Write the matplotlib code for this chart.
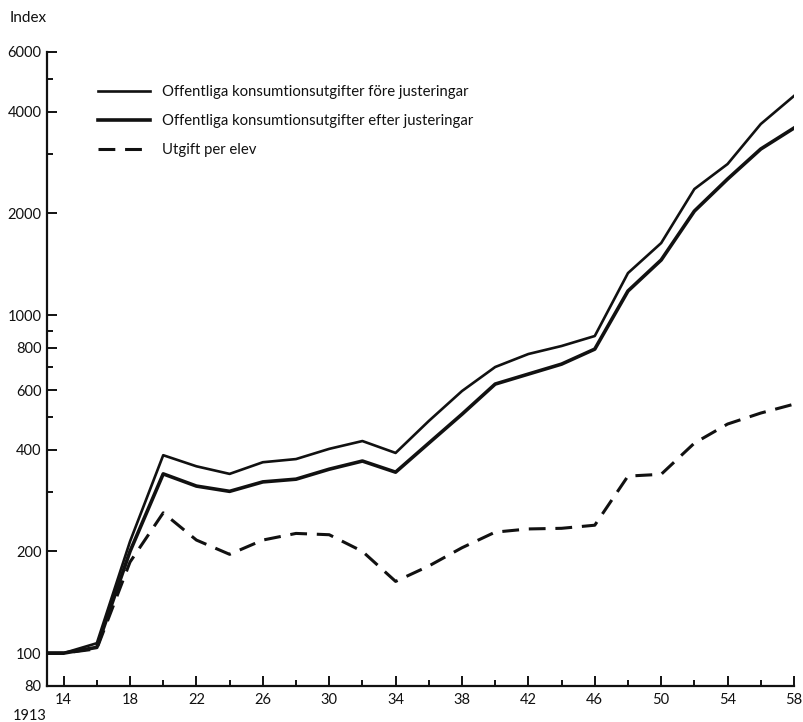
import matplotlib.pyplot as plt
from matplotlib.ticker import FixedLocator, NullFormatter

plt.rcParams["font.family"] = ["Lato", "DejaVu Sans"]

years = [1913, 1914, 1916, 1918, 1920, 1922, 1924, 1926, 1928, 1930, 1932,
         1934, 1936, 1938, 1940, 1942, 1944, 1946, 1948, 1950, 1952, 1954,
         1956, 1958]

# index, 1913 = 100
before_adj = [100, 100, 107, 214, 385, 357, 339, 367, 375, 402, 424,
              391, 486, 596, 702, 767, 810, 867, 1331, 1633, 2359, 2797,
              3673, 4447]
after_adj = [100, 100, 104, 200, 339, 312, 301, 321, 327, 350, 370,
             343, 418, 509, 625, 669, 716, 793, 1178, 1455, 2030, 2525,
             3098, 3574]
per_pupil = [100, 100, 103, 186, 260, 216, 196, 216, 226, 224, 200,
             163, 181, 205, 228, 233, 234, 239, 334, 338, 418, 476,
             513, 545]

labels = [
    "Offentliga konsumtionsutgifter före justeringar",
    "Offentliga konsumtionsutgifter efter justeringar",
    "Utgift per elev",
]

y_major = [80, 100, 200, 400, 600, 800, 1000, 2000, 4000, 6000]
y_minor = [300, 500, 700, 900, 3000, 5000]
x_major = list(range(1914, 1959, 4))
x_minor = list(range(1916, 1959, 4))

ink = "#111111"

fig = plt.figure(figsize=(8.04, 7.22), dpi=100)
ax = fig.add_axes([0.0585, 0.05, 0.929, 0.878])

ax.plot(years, before_adj, color=ink, lw=1.9, label=labels[0])
ax.plot(years, after_adj, color=ink, lw=2.6, label=labels[1])
ax.plot(years, per_pupil, color=ink, lw=2.2, dashes=(5.5, 3.2), label=labels[2])

ax.set_yscale("log")
ax.set_ylim(80, 6000)
ax.set_xlim(1913, 1958)

ax.yaxis.set_major_locator(FixedLocator(y_major))
ax.yaxis.set_minor_locator(FixedLocator(y_minor))
ax.set_yticklabels([str(v) for v in y_major])
ax.yaxis.set_minor_formatter(NullFormatter())

ax.xaxis.set_major_locator(FixedLocator(x_major))
ax.xaxis.set_minor_locator(FixedLocator(x_minor))
ax.set_xticklabels([str(y % 100) for y in x_major])

ax.tick_params(which="both", direction="in", color=ink, labelcolor=ink,
               labelsize=10.5, width=1.4)
ax.tick_params(which="major", length=7)
ax.tick_params(which="minor", length=4.5)
ax.tick_params(axis="y", pad=4)
ax.tick_params(axis="x", pad=5)

for side in ("top", "right"):
    ax.spines[side].set_visible(False)
for side in ("left", "bottom"):
    ax.spines[side].set_linewidth(1.6)
    ax.spines[side].set_color(ink)

# start year goes under the axis corner, one line below the tick labels
fig.text(30 / 804, 2 / 722, "1913", ha="center", va="baseline",
         fontsize=10.5, color=ink)
fig.text(10 / 804, 1 - 18 / 722, "Index", ha="left", va="center",
         fontsize=11, color=ink)

ax.legend(loc="upper left", bbox_to_anchor=(85 / 804, 1 - 72 / 722),
          bbox_transform=fig.transFigure, frameon=False, fontsize=10.7,
          handlelength=3.5, handletextpad=0.8, labelspacing=1.0,
          labelcolor=ink)

fig.savefig("out.png", dpi=100)
